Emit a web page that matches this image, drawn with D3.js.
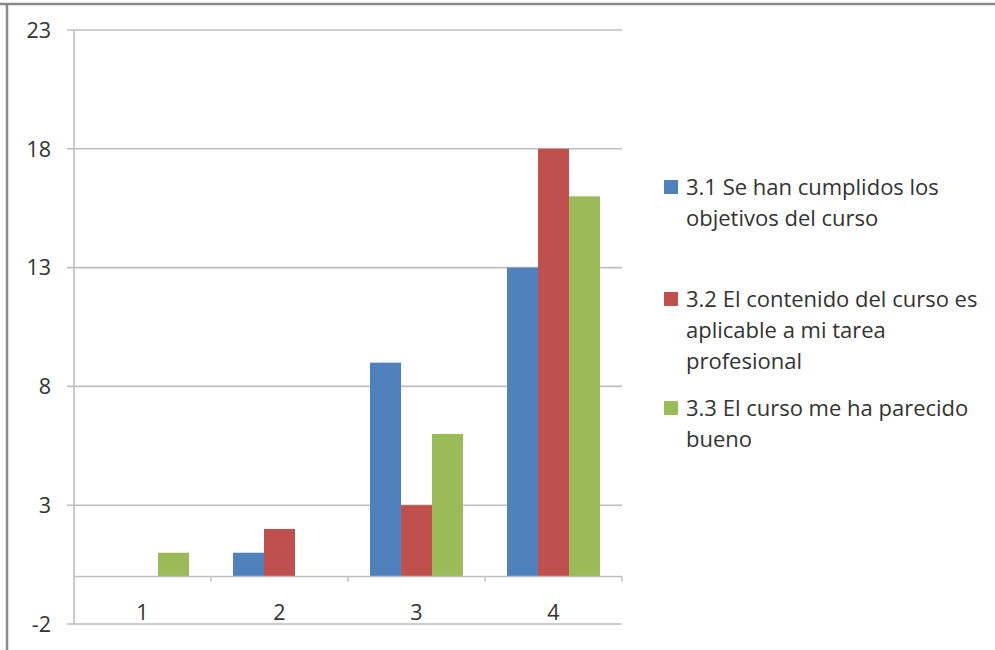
<!DOCTYPE html>
<html><head><meta charset="utf-8">
<script src="https://cdn.jsdelivr.net/npm/d3@7/dist/d3.min.js"></script>
<style>body{margin:0;background:#fff;}svg{display:block;}</style>
</head><body>
<script>
const categories = ["1", "2", "3", "4"];
const seriesNames = [
  ["3.1 Se han cumplidos los", "objetivos del curso"],
  ["3.2 El contenido del curso es", "aplicable a mi tarea", "profesional"],
  ["3.3 El curso me ha parecido", "bueno"]
];
const s31 = [0, 1, 9, 13];
const s32 = [0, 2, 3, 18];
const s33 = [1, 0, 6, 16];
const yTicks = [-2, 3, 8, 13, 18, 23];
const colors = ["#4F81BD", "#C0504D", "#9BBB59"];
const seriesValues = [s31, s32, s33];

const W = 995, H = 650;
const svg = d3.select("body").append("svg").attr("width", W).attr("height", H);
const font = "'Open Sans', sans-serif";

// outer frame
svg.append("line").attr("x1", 0).attr("x2", W).attr("y1", 4).attr("y2", 4).attr("stroke", "#8a8a8a").attr("stroke-width", 2.5);
svg.append("line").attr("x1", 7).attr("x2", 7).attr("y1", 4).attr("y2", H).attr("stroke", "#8a8a8a").attr("stroke-width", 2.5);

const x0 = 74, x1 = 622;
const y = d3.scaleLinear().domain([-2, 23]).range([624, 30]);
const xb = d3.scaleBand().domain(categories).range([x0, x1]).paddingInner(0).paddingOuter(0);
const xs = d3.scaleBand().domain([0, 1, 2]).range([0, xb.bandwidth()]).paddingInner(0).paddingOuter(0.71);

// gridlines
const g = svg.append("g");
yTicks.forEach(t => {
  g.append("line").attr("x1", 67).attr("x2", x1).attr("y1", y(t)).attr("y2", y(t))
    .attr("stroke", "#BEBEBE").attr("stroke-width", 1.6);
  g.append("text").attr("x", 51).attr("y", y(t)).attr("dy", "0.36em").attr("text-anchor", "end")
    .attr("font-family", font).attr("font-size", 21.5).attr("fill", "#333").text(t);
});
// y axis line
g.append("line").attr("x1", x0).attr("x2", x0).attr("y1", y(23)).attr("y2", y(-2)).attr("stroke", "#BEBEBE").attr("stroke-width", 1.6);

// bars
categories.forEach((c, i) => {
  seriesValues.forEach((vals, s) => {
    const v = vals[i];
    if (v === 0) return;
    svg.append("rect")
      .attr("x", xb(c) + xs(s)).attr("width", xs.bandwidth())
      .attr("y", y(Math.max(v, 0))).attr("height", Math.abs(y(v) - y(0)))
      .attr("fill", colors[s]);
  });
});

// zero axis line with ticks
svg.append("line").attr("x1", x0).attr("x2", x1).attr("y1", y(0)).attr("y2", y(0)).attr("stroke", "#BEBEBE").attr("stroke-width", 1.6);
categories.forEach(c => {
  const xe = xb(c) + xb.bandwidth();
  svg.append("line").attr("x1", xe).attr("x2", xe).attr("y1", y(0)).attr("y2", y(0) + 5).attr("stroke", "#BEBEBE").attr("stroke-width", 1.4);
  svg.append("text").attr("x", xb(c) + xb.bandwidth() / 2).attr("y", 612).attr("dy", "0.36em")
    .attr("text-anchor", "middle").attr("font-family", font).attr("font-size", 21.5).attr("fill", "#333").text(c);
});

// legend
const legTop = [187, 299, 408];
seriesNames.forEach((lines, s) => {
  svg.append("rect").attr("x", 664).attr("y", legTop[s] - 7).attr("width", 14).attr("height", 14).attr("fill", colors[s]);
  lines.forEach((ln, k) => {
    svg.append("text").attr("x", 686).attr("y", legTop[s] + k * 31).attr("dy", "0.36em")
      .attr("font-family", font).attr("font-size", 22).attr("fill", "#333").text(ln);
  });
});
</script>
</body></html>
